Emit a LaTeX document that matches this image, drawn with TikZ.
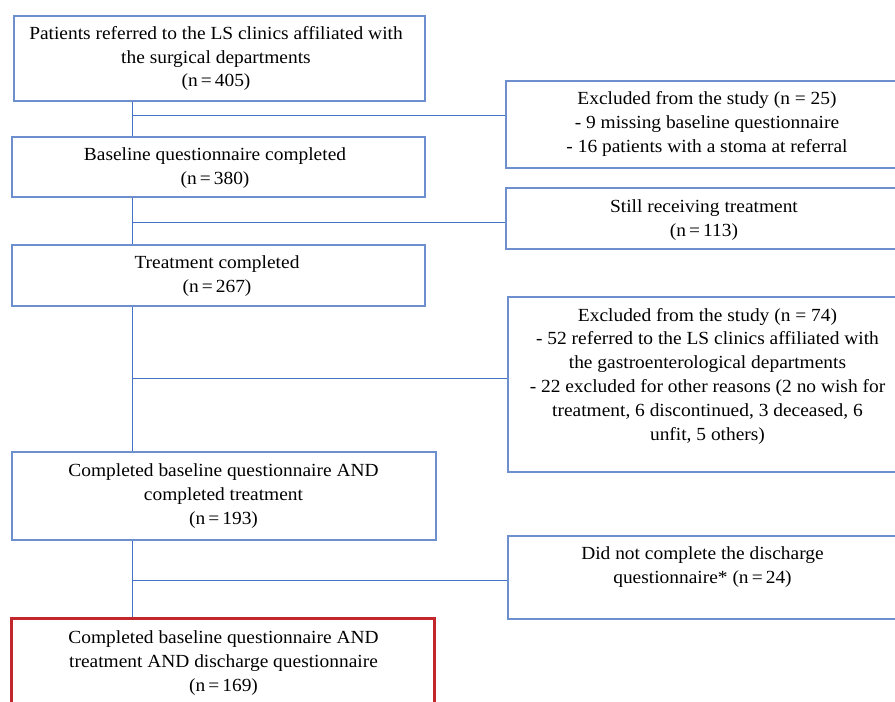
\documentclass[tikz,border=0pt]{standalone}
\usepackage{fontspec}
\setmainfont[FakeStretch=1.05]{Liberation Serif}
\definecolor{boxblue}{HTML}{6E8FCE}
\definecolor{lineblue}{HTML}{4472C4}
\definecolor{boxred}{HTML}{C1272D}
\begin{document}
\begin{tikzpicture}[x=1pt,y=-1pt,
  box/.style={draw=boxblue,line width=1.2pt,rectangle,inner sep=0pt},
  redbox/.style={draw=boxred,line width=3pt,rectangle,inner sep=0pt},
  txt/.style={align=center,inner sep=0pt,font=\fontsize{18.5}{23.8}\selectfont},
  link/.style={draw=lineblue,line width=1pt}]
\useasboundingbox (0,0) rectangle (895,702);
\clip (0,0) rectangle (895,702);
% boxes
\node[box,minimum width=411pt,minimum height=85pt] (b1) at (219.5,58.5) {};
\node[box,minimum width=413pt,minimum height=60pt] (b2) at (218.5,167) {};
\node[box,minimum width=413pt,minimum height=61pt] (b3) at (218.5,275.5) {};
\node[box,minimum width=424pt,minimum height=88pt] (b4) at (224,496) {};
\node[redbox,minimum width=423pt,minimum height=88pt] (b5) at (223,662.5) {};
\node[box,minimum width=402pt,minimum height=87pt] (e1) at (707,124.5) {};
\node[box,minimum width=402pt,minimum height=61pt] (e2) at (707,218.5) {};
\node[box,minimum width=400pt,minimum height=175pt] (e3) at (708,384.5) {};
\node[box,minimum width=400pt,minimum height=83pt] (e4) at (708,577.5) {};
% texts
\node[txt] (t1) at (216,58.5) {Patients referred to the LS clinics affiliated with\\the surgical departments\\(n\,=\,405)};
\node[txt] (t2) at (215,168) {Baseline questionnaire completed\\(n\,=\,380)};
\node[txt] (t3) at (217,276) {Treatment completed\\(n\,=\,267)};
\node[txt] (t4) at (223.5,496) {Completed baseline questionnaire AND\\completed treatment\\(n\,=\,193)};
\node[txt] (t5) at (223.5,663) {Completed baseline questionnaire AND\\treatment AND discharge questionnaire\\(n\,=\,169)};
\node[txt] (u1) at (707,124) {Excluded from the study (n = 25)\\- 9 missing baseline questionnaire\\- 16 patients with a stoma at referral};
\node[txt] (u2) at (704,220) {Still receiving treatment\\(n\,=\,113)};
\node[txt] (u3) at (707.5,376) {Excluded from the study (n = 74)\\- 52 referred to the LS clinics affiliated with\\the gastroenterological departments\\- 22 excluded for other reasons (2 no wish for\\treatment, 6 discontinued, 3 deceased, 6\\unfit, 5 others)};
\node[txt] (u4) at (702.5,567) {Did not complete the discharge\\questionnaire* (n\,=\,24)};
% trunk coordinates
\coordinate (k1) at (132,115);
\coordinate (k2) at (132,222);
\coordinate (k3) at (132,378);
\coordinate (k4) at (132,580);
% vertical connectors
\draw[link] (b1.south -| k1) -- (b2.north -| k1);
\draw[link] (b2.south -| k2) -- (b3.north -| k2);
\draw[link] (b3.south -| k3) -- (b4.north -| k3);
\draw[link] (b4.south -| k4) -- (b5.north -| k4);
% branches
\draw[link] (k1) -- (k1 -| e1.west);
\draw[link] (k2) -- (k2 -| e2.west);
\draw[link] (k3) -- (k3 -| e3.west);
\draw[link] (k4) -- (k4 -| e4.west);
\end{tikzpicture}
\end{document}
